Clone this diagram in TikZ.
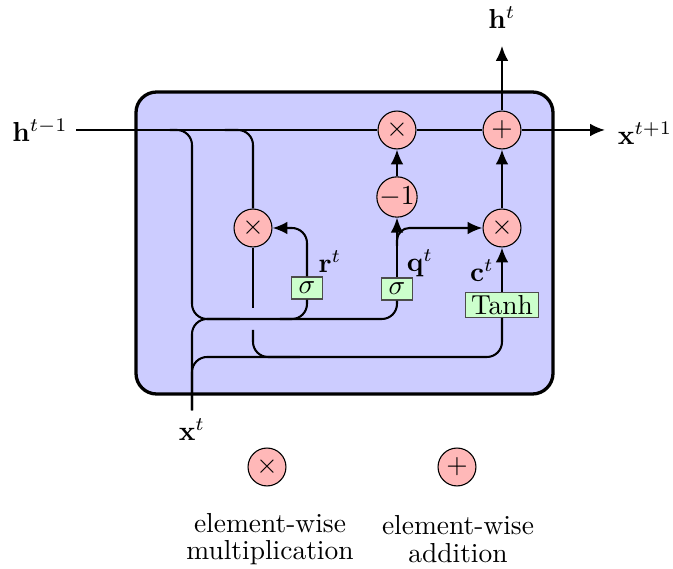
\documentclass[tikz,border=0pt]{standalone}
\usetikzlibrary{arrows.meta}
\begin{document}
\begin{tikzpicture}[x=0.364pt,y=-0.364pt,
  conn/.style={line width=0.75pt},
  arr/.style={conn,-{Latex[length=5.4pt,width=4.6pt]}},
  op/.style={circle,draw=black,line width=0.4pt,fill=red!28,inner sep=0pt,minimum size=13.8pt},
  gate/.style={rectangle,draw=black!70,line width=0.4pt,fill=green!20,inner xsep=2pt,inner ysep=1pt,minimum width=11.4pt,minimum height=8pt},
  lbl/.style={inner sep=3pt}]
\useasboundingbox (0,0) rectangle (673,569);
% cell box
\draw[line width=1.2pt,fill=blue!20,rounded corners=7.5pt] (136,92) rectangle (553,394);
% nodes
\node[op] (mult) at (397,130) {$\times$};
\node[op] (add) at (502,130) {$+$};
\node[op] (neg) at (397,197) {$-1$};
\node[op] (mulc) at (502,228) {$\times$};
\node[op] (mulr) at (253,228) {$\times$};
\node[gate] (sigr) at (307,288) {$\sigma$};
\node[gate] (sigq) at (397,289) {$\sigma$};
\node[gate] (tanh) at (502,305) {Tanh};
\node[lbl] (hprev) at (40,130) {$\mathbf{h}^{t-1}$};
\node[lbl] (xnext) at (645,133) {$\mathbf{x}^{t+1}$};
\node[lbl] (hout) at (502,18) {$\mathbf{h}^{t}$};
\node[lbl] (xin) at (192,430) {$\mathbf{x}^{t}$};
\node (rlab) at (330,262) {$\mathbf{r}^t$};
\node (qlab) at (420,263) {$\mathbf{q}^t$};
\node (clab) at (482,271) {$\mathbf{c}^t$};
\coordinate (jr) at (192,319);
\coordinate (jc) at (192,357);
% main line
\draw[conn] (hprev.east) -- (mult.west);
\draw[conn] (mult.east) -- (add.west);
\draw[arr,shorten >=1.5pt] (add.east) -- (add.east -| xnext.west);
\draw[arr,shorten >=3pt] (add.north) -- (hout.south);
% h^{t-1} branches
\draw[conn,rounded corners=5.5pt] (170,130) -| (jr) -| (sigq.south);
\draw[conn,rounded corners=5.5pt] (280,319) -| (sigr.south);
\draw[conn,rounded corners=5.5pt] (225,130) -| (mulr.north);
% x^t branches
\draw[conn,rounded corners=5.5pt] (xin.north) |- (240,319);
\draw[conn,rounded corners=5.5pt] (xin.north) -- (jc) -| (tanh.south);
% r * h
\draw[conn] (mulr.south) -- (253,308);
\draw[conn,rounded corners=5.5pt] (253,330) |- (300,357);
% gates
\draw[arr,rounded corners=5.5pt] (sigr.north) |- (mulr.east);
\draw[arr] (sigq.north) -- (neg.south);
\draw[arr,rounded corners=4.5pt] (397,246) |- (mulc.west);
\draw[arr] (neg.north) -- (mult.south);
\draw[arr] (tanh.north) -- (mulc.south);
\draw[arr] (mulc.north) -- (add.south);
% legend
\node[op] (lmul) at (267,467) {$\times$};
\node[op] (ladd) at (457,467) {$+$};
\node[align=center] (lmtxt) at (270,539) {element-wise\\[-2pt]multiplication};
\node[align=center] (latxt) at (458,539) {element-wise\\[-2pt]addition};
\end{tikzpicture}
\end{document}
